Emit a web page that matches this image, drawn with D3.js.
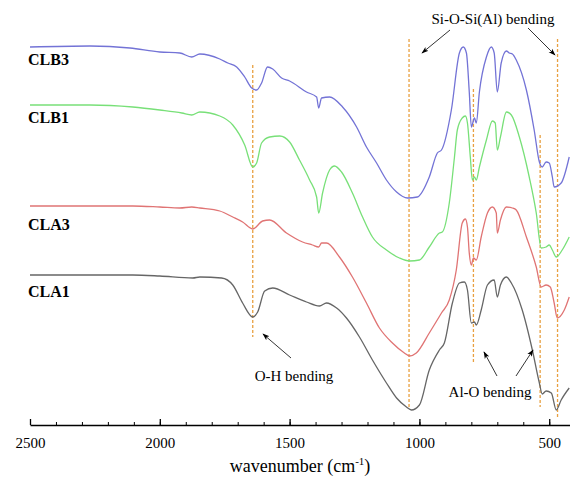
<!DOCTYPE html>
<html>
<head>
<meta charset="utf-8">
<script src="https://cdn.jsdelivr.net/npm/d3@7"></script>
<style>
  body { margin: 0; background: #fff; }
  svg { display: block; }
  text { font-family: "Liberation Serif", "DejaVu Serif", serif; }
</style>
</head>
<body>
<svg width="570" height="481"></svg>
<script>
// wavenumber (cm-1) and transmittance (a.u., offset)
const CLB3 = [
    [2500, 94.5], [2269, 94.75], [2115, 94.25], [2000, 93.25], [1923, 93], [1877, 92], [1846, 92.75],
    [1769, 91.5], [1738, 90.5], [1704, 89.5], [1673, 87], [1646, 84.25], [1627, 83.75], [1608, 85.5],
    [1585, 89.5], [1565, 89], [1531, 86.75], [1500, 86], [1435, 83.25], [1396, 82], [1388, 79.25],
    [1377, 81.75], [1346, 82], [1296, 79.5], [1242, 74.5], [1204, 69.5], [1165, 65.5], [1127, 61.25],
    [1088, 58.25], [1046, 56.75], [1008, 57], [962, 62], [931, 68], [915, 68.75], [877, 78.75],
    [846, 93], [831, 94.5], [819, 93], [808, 83.25], [800, 74.5], [788, 76.75], [781, 75.5],
    [769, 83.25], [742, 92], [723, 94.5], [712, 93], [700, 83.25], [685, 90.5], [665, 93.5],
    [654, 93], [642, 92.75], [627, 91.25], [588, 83.75], [558, 73.75], [538, 65.75], [527, 64.5],
    [512, 65.75], [500, 65.5], [488, 62], [481, 59.5], [454, 60.5], [423, 67]
];
const CLB1 = [
    [2500, 80], [2269, 80], [2104, 79.5], [2000, 78.75], [1915, 78], [1877, 77.5], [1846, 78.25],
    [1769, 77.25], [1719, 75], [1673, 70], [1642, 64.5], [1627, 65.5], [1608, 70.5], [1577, 72],
    [1538, 72.25], [1500, 70.75], [1462, 66.25], [1423, 61.25], [1396, 57], [1388, 53], [1373, 58],
    [1346, 63.75], [1327, 64.75], [1300, 63.25], [1258, 58], [1219, 52], [1181, 47], [1127, 43.75],
    [1077, 41.75], [1038, 41], [1000, 41.25], [962, 44.5], [923, 48], [912, 48.25], [885, 55.5],
    [865, 67], [854, 73.75], [835, 76.75], [823, 77.25], [815, 75.5], [804, 67], [796, 61.25],
    [788, 62], [781, 61.25], [769, 64.5], [742, 71.25], [719, 76], [708, 75.5], [700, 68.75],
    [688, 72], [665, 78.25], [646, 77.5], [615, 72], [577, 62], [550, 53], [531, 44.25],
    [512, 44.5], [500, 45], [488, 43.75], [473, 42], [450, 43.75], [423, 47]
];
const CLA3 = [
    [2500, 54.75], [2104, 54.75], [2000, 54.5], [1923, 54.25], [1877, 54.5], [1846, 54.25],
    [1769, 53.5], [1719, 52], [1681, 50.75], [1642, 49], [1604, 51], [1577, 51.25], [1512, 48],
    [1450, 45.75], [1412, 45], [1388, 44.5], [1377, 45.5], [1358, 45.5], [1308, 42], [1258, 37],
    [1204, 30.5], [1154, 24.25], [1104, 20.5], [1058, 18], [1038, 17.25], [1012, 18], [962, 23],
    [915, 28], [885, 31.25], [858, 38.75], [835, 50.5], [823, 51.5], [815, 49.5], [808, 43],
    [800, 40], [792, 41.75], [781, 41.25], [762, 47], [738, 53], [719, 54.5], [704, 53], [700, 48],
    [688, 51.25], [665, 54.5], [642, 54.25], [627, 53.75], [588, 47], [550, 39.5], [531, 34.5],
    [512, 35], [496, 34.5], [481, 30.5], [469, 26.75], [442, 28.75], [423, 32]
];
const CLA1 = [
    [2500, 37.5], [2104, 37.5], [2000, 37.25], [1873, 36.75], [1846, 37], [1762, 36.75], [1719, 35],
    [1681, 30.5], [1642, 27], [1623, 28.25], [1596, 33.5], [1565, 34.25], [1500, 32.5], [1435, 30.75],
    [1385, 29.75], [1358, 30.5], [1319, 29.25], [1281, 26.75], [1231, 22], [1181, 16.25],
    [1127, 10.5], [1088, 6.75], [1050, 4.5], [1031, 3.75], [1000, 5], [962, 13.75], [923, 18.75],
    [904, 20.5], [873, 30.5], [846, 35.5], [827, 35.75], [815, 33.75], [800, 25.5], [788, 25.75],
    [781, 25], [762, 28.75], [738, 35], [712, 36.25], [700, 32], [688, 35], [665, 37], [646, 35.5],
    [604, 28.75], [565, 18.75], [538, 10.5], [527, 7.75], [512, 8.5], [492, 8], [473, 3.75],
    [454, 6.25], [423, 9.25]
];

const SERIES = [
    {name: 'CLB3', data: CLB3, color: '#7373d6', labelY: 90},
    {name: 'CLB1', data: CLB1, color: '#78e078', labelY: 75.5},
    {name: 'CLA3', data: CLA3, color: '#e07474', labelY: 48.75},
    {name: 'CLA1', data: CLA1, color: '#666666', labelY: 32}
];

// peak guide lines: wavenumber, top and bottom (a.u.)
const GUIDES = [
    {w: 1642, top: 90, bottom: 22},
    {w: 1040, top: 96.5, bottom: 4},
    {w: 792, top: 84, bottom: 15.5},
    {w: 535, top: 72.5, bottom: 4.5},
    {w: 468, top: 96.5, bottom: 1.5}
];

const MAJOR_TICKS = [2500, 2000, 1500, 1000, 500];
const MINOR_TICKS = d3.range(2400, 420, -100);

const x = d3.scaleLinear().domain([2500, 420]).range([30, 570]);
const y = d3.scaleLinear().domain([0, 100]).range([425, 25]);

const svg = d3.select('svg');
const FONT = '"Liberation Serif", "DejaVu Serif", serif';

svg.append('defs').append('marker')
    .attr('id', 'arrow')
    .attr('viewBox', '0 0 10 10')
    .attr('refX', 9).attr('refY', 5)
    .attr('markerWidth', 9).attr('markerHeight', 9)
    .attr('orient', 'auto')
    .append('path')
    .attr('d', 'M0,1.5 L10,5 L0,8.5 L2.5,5 Z')
    .attr('fill', '#000');

svg.append('clipPath').attr('id', 'clip')
    .append('rect').attr('x', 30).attr('y', 0).attr('width', 540).attr('height', 425);

// dashed guide lines
svg.append('g').selectAll('line').data(GUIDES).enter()
    .append('line')
    .attr('x1', d => x(d.w)).attr('x2', d => x(d.w))
    .attr('y1', d => y(d.top)).attr('y2', d => y(d.bottom))
    .attr('stroke', '#e8a040')
    .attr('stroke-width', 1.3)
    .attr('stroke-dasharray', '3,2');

// spectra
const line = d3.line().x(d => x(d[0])).y(d => y(d[1])).curve(d3.curveMonotoneX);
svg.append('g').attr('clip-path', 'url(#clip)')
    .selectAll('path').data(SERIES).enter()
    .append('path')
    .attr('d', d => line(d.data))
    .attr('fill', 'none')
    .attr('stroke', d => d.color)
    .attr('stroke-width', 1.3);

// series labels
svg.append('g').selectAll('text').data(SERIES).enter()
    .append('text')
    .attr('x', 28)
    .attr('y', d => y(d.labelY))
    .attr('font-family', FONT)
    .attr('font-size', 16)
    .attr('font-weight', 'bold')
    .text(d => d.name);

// x axis
const axis = svg.append('g').attr('transform', `translate(0, ${y(0)})`);
axis.call(d3.axisBottom(x).tickValues(MAJOR_TICKS).tickFormat(d3.format('d'))
        .tickSize(-6).tickSizeOuter(0).tickPadding(12))
    .attr('font-family', FONT)
    .call(g => g.select('.domain').attr('stroke', '#000').attr('stroke-width', 1.3))
    .call(g => g.selectAll('.tick line').attr('stroke-width', 1.3))
    .call(g => g.selectAll('text').attr('font-size', 15));
axis.append('g').call(d3.axisBottom(x).tickValues(MINOR_TICKS).tickSize(-3).tickFormat(''))
    .call(g => g.select('.domain').remove());

svg.append('text')
    .attr('x', 300).attr('y', 472)
    .attr('text-anchor', 'middle')
    .attr('font-family', FONT)
    .attr('font-size', 18)
    .html('wavenumber (cm<tspan dy="-7" font-size="11">-1</tspan><tspan dy="7">)</tspan>');

// annotations
const ANNOTATIONS = [
    {text: 'Si-O-Si(Al) bending', x: 493, y: 24},
    {text: 'O-H bending', x: 294, y: 381},
    {text: 'Al-O bending', x: 490, y: 397}
];
svg.append('g').selectAll('text').data(ANNOTATIONS).enter()
    .append('text')
    .attr('x', d => d.x).attr('y', d => d.y)
    .attr('text-anchor', 'middle')
    .attr('font-family', FONT)
    .attr('font-size', 15)
    .text(d => d.text);

const ARROWS = [
    [450, 30, 422, 53],
    [528, 28, 555, 55],
    [291, 358, 263, 334],
    [497, 376, 484, 352],
    [516, 376, 533, 350]
];
svg.append('g').selectAll('line').data(ARROWS).enter()
    .append('line')
    .attr('x1', d => d[0]).attr('y1', d => d[1])
    .attr('x2', d => d[2]).attr('y2', d => d[3])
    .attr('stroke', '#000')
    .attr('stroke-width', 0.8)
    .attr('marker-end', 'url(#arrow)');
</script>
</body>
</html>
